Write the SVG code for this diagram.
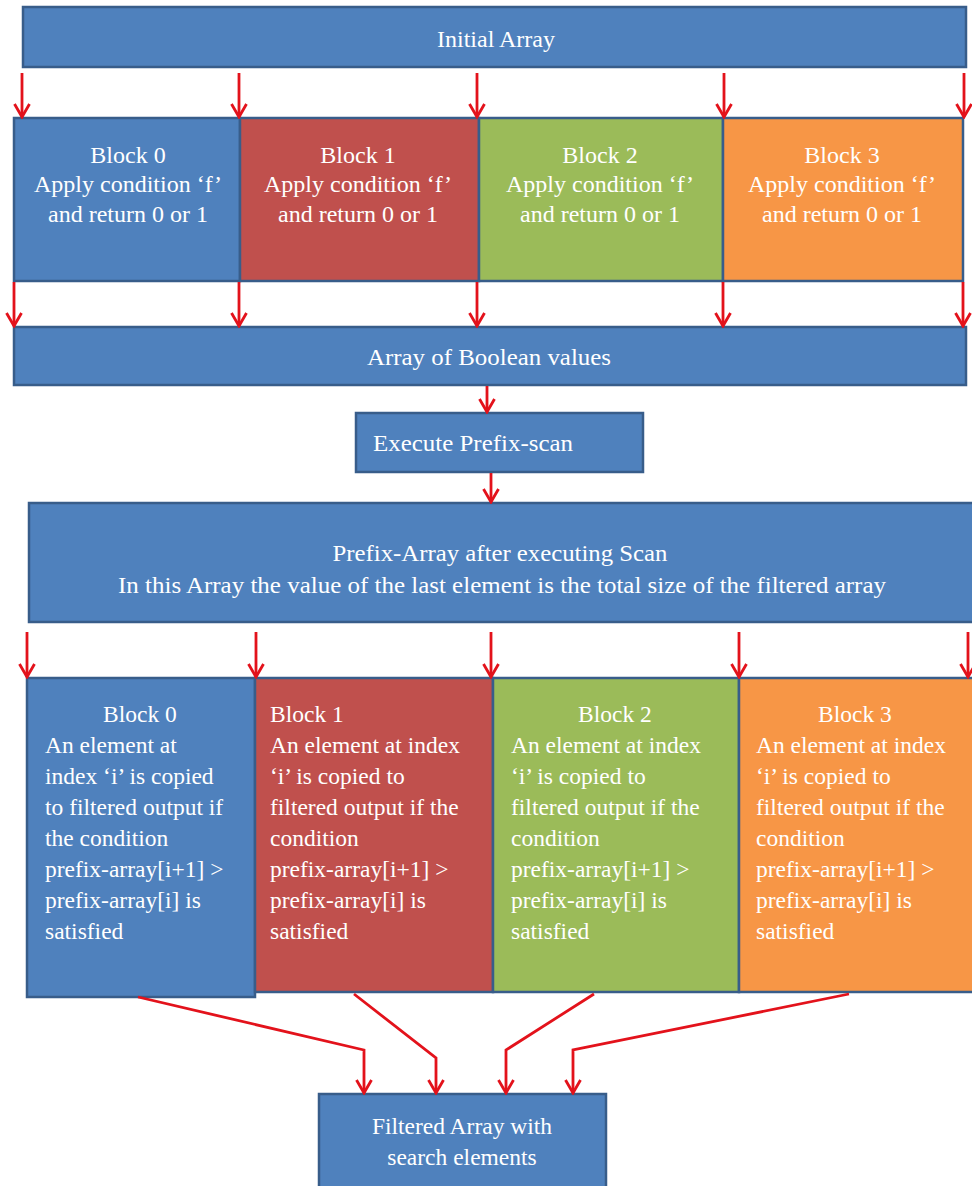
<svg xmlns="http://www.w3.org/2000/svg" width="972" height="1186" viewBox="0 0 972 1186">
  <style>
    .box { stroke: #385D8A; stroke-width: 2.5; }
    .blue { fill: #4F81BD; }
    .red { fill: #C0504D; }
    .green { fill: #9BBB59; }
    .orange { fill: #F79646; }
    text { font-family: "Liberation Serif", "Times New Roman", serif; fill: #FFFFFF; }
    .t24 { font-size: 24px; }
    .t23 { font-size: 23.5px; }
    .mid { text-anchor: middle; }
    .wire { stroke: #E3121B; stroke-width: 2.8; fill: none; marker-end: url(#head); }
  </style>
  <defs>
    <marker id="head" viewBox="0 0 16 18" refX="14" refY="9" markerWidth="16" markerHeight="18" markerUnits="userSpaceOnUse" orient="auto">
      <path d="M1,1.5 L14,9 L1,16.5" fill="none" stroke="#E3121B" stroke-width="2.8"/>
    </marker>
  </defs>

  <rect width="972" height="1186" fill="#FFFFFF"/>

  <!-- top input array -->
  <g id="initial-array">
    <rect class="box blue" x="23" y="7" width="943" height="60"/>
    <text class="t24 mid" x="496" y="47">Initial Array</text>
  </g>

  <!-- first pass: condition blocks -->
  <g id="cond-block-0">
    <rect class="box blue" x="14" y="118" width="226" height="163"/>
    <text class="t24 mid" x="128" y="163">Block 0</text>
    <text class="t24 mid" x="128" y="192">Apply condition ‘f’</text>
    <text class="t24 mid" x="128" y="222">and return 0  or 1</text>
  </g>
  <g id="cond-block-1">
    <rect class="box red" x="240" y="118" width="239" height="163"/>
    <text class="t24 mid" x="358" y="163">Block 1</text>
    <text class="t24 mid" x="358" y="192">Apply condition ‘f’</text>
    <text class="t24 mid" x="358" y="222">and return 0  or 1</text>
  </g>
  <g id="cond-block-2">
    <rect class="box green" x="479" y="118" width="244" height="163"/>
    <text class="t24 mid" x="600" y="163">Block 2</text>
    <text class="t24 mid" x="600" y="192">Apply condition ‘f’</text>
    <text class="t24 mid" x="600" y="222">and return 0  or 1</text>
  </g>
  <g id="cond-block-3">
    <rect class="box orange" x="723" y="118" width="240" height="163"/>
    <text class="t24 mid" x="842" y="163">Block 3</text>
    <text class="t24 mid" x="842" y="192">Apply condition ‘f’</text>
    <text class="t24 mid" x="842" y="222">and return 0  or 1</text>
  </g>

  <g id="boolean-array">
    <rect class="box blue" x="14" y="327" width="952" height="58"/>
    <text class="t24 mid" x="489" y="365" textLength="244" lengthAdjust="spacingAndGlyphs">Array of Boolean values</text>
  </g>

  <g id="prefix-scan">
    <rect class="box blue" x="356" y="413" width="287" height="59"/>
    <text class="t24" x="373" y="451" textLength="200" lengthAdjust="spacingAndGlyphs">Execute Prefix-scan</text>
  </g>

  <g id="prefix-array">
    <rect class="box blue" x="29" y="503" width="950" height="119"/>
    <text class="t24 mid" x="500" y="561" textLength="335" lengthAdjust="spacingAndGlyphs">Prefix-Array after executing Scan</text>
    <text class="t24 mid" x="502" y="593" textLength="768" lengthAdjust="spacingAndGlyphs">In this Array the value of the last element is the total size of the filtered array</text>
  </g>

  <!-- second pass: copy blocks -->
  <g id="copy-block-0">
    <rect class="box blue" x="27" y="678" width="228" height="319"/>
    <text class="t23 mid" x="140" y="722">Block 0</text>
    <text class="t23" x="45" y="753">An element at</text>
    <text class="t23" x="45" y="784">index ‘i’ is copied</text>
    <text class="t23" x="45" y="815">to filtered output if</text>
    <text class="t23" x="45" y="846">the condition</text>
    <text class="t23" x="45" y="877">prefix-array[i+1] &gt;</text>
    <text class="t23" x="45" y="908">prefix-array[i] is</text>
    <text class="t23" x="45" y="939">satisfied</text>
  </g>
  <g id="copy-block-1">
    <rect class="box red" x="255" y="678" width="238" height="314"/>
    <text class="t23" x="270" y="722">Block 1</text>
    <text class="t23" x="270" y="753">An element at index</text>
    <text class="t23" x="270" y="784">‘i’ is copied to</text>
    <text class="t23" x="270" y="815">filtered output if the</text>
    <text class="t23" x="270" y="846">condition</text>
    <text class="t23" x="270" y="877">prefix-array[i+1] &gt;</text>
    <text class="t23" x="270" y="908">prefix-array[i] is</text>
    <text class="t23" x="270" y="939">satisfied</text>
  </g>
  <g id="copy-block-2">
    <rect class="box green" x="493" y="678" width="246" height="314"/>
    <text class="t23 mid" x="615" y="722">Block 2</text>
    <text class="t23" x="511" y="753">An element at index</text>
    <text class="t23" x="511" y="784">‘i’ is copied to</text>
    <text class="t23" x="511" y="815">filtered output if the</text>
    <text class="t23" x="511" y="846">condition</text>
    <text class="t23" x="511" y="877">prefix-array[i+1] &gt;</text>
    <text class="t23" x="511" y="908">prefix-array[i] is</text>
    <text class="t23" x="511" y="939">satisfied</text>
  </g>
  <g id="copy-block-3">
    <rect class="box orange" x="739" y="678" width="240" height="314"/>
    <text class="t23 mid" x="855" y="722">Block 3</text>
    <text class="t23" x="756" y="753">An element at index</text>
    <text class="t23" x="756" y="784">‘i’ is copied to</text>
    <text class="t23" x="756" y="815">filtered output if the</text>
    <text class="t23" x="756" y="846">condition</text>
    <text class="t23" x="756" y="877">prefix-array[i+1] &gt;</text>
    <text class="t23" x="756" y="908">prefix-array[i] is</text>
    <text class="t23" x="756" y="939">satisfied</text>
  </g>

  <g id="filtered-array">
    <rect class="box blue" x="319" y="1094" width="287" height="100"/>
    <text class="t23 mid" x="462" y="1134">Filtered Array with</text>
    <text class="t23 mid" x="462" y="1165">search elements</text>
  </g>

  <g id="connectors">
    <!-- initial array into condition blocks -->
    <path class="wire" d="M22,73 V117"/>
    <path class="wire" d="M239,73 V117"/>
    <path class="wire" d="M477,73 V117"/>
    <path class="wire" d="M724,73 V117"/>
    <path class="wire" d="M964,73 V117"/>
    <!-- condition blocks into boolean array -->
    <path class="wire" d="M14,282 V326"/>
    <path class="wire" d="M239,282 V326"/>
    <path class="wire" d="M477,282 V326"/>
    <path class="wire" d="M723,282 V326"/>
    <path class="wire" d="M963,282 V326"/>
    <!-- boolean array through scan -->
    <path class="wire" d="M487,386 V412"/>
    <path class="wire" d="M491,473 V502"/>
    <!-- prefix array into copy blocks -->
    <path class="wire" d="M27,632 V677"/>
    <path class="wire" d="M256,632 V677"/>
    <path class="wire" d="M491,632 V677"/>
    <path class="wire" d="M739,632 V677"/>
    <path class="wire" d="M968,632 V677"/>
    <!-- copy blocks into filtered array -->
    <path class="wire" d="M138,997 L364,1050 V1093"/>
    <path class="wire" d="M354,994 L436,1058 V1093"/>
    <path class="wire" d="M594,994 L506,1050 V1093"/>
    <path class="wire" d="M849,994 L573,1050 V1093"/>
  </g>
</svg>
